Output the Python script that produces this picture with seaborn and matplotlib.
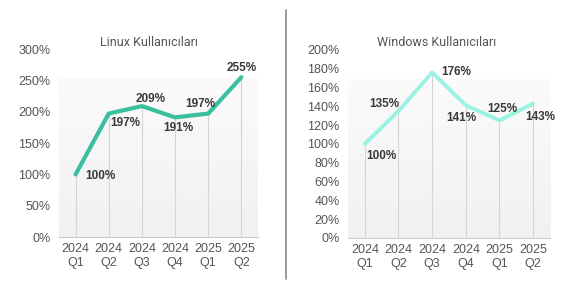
import numpy as np
import pandas as pd
import matplotlib
matplotlib.use("Agg")
import matplotlib.pyplot as plt
import seaborn as sns
from matplotlib.ticker import FuncFormatter

# Data
quarters = ["2024\nQ1", "2024\nQ2", "2024\nQ3", "2024\nQ4", "2025\nQ1", "2025\nQ2"]
linux_values = [100, 197, 209, 191, 197, 255]
windows_values = [100, 135, 176, 141, 125, 143]

sns.set_style("white")
plt.rcParams["font.family"] = ["Liberation Sans", "DejaVu Sans"]

fig = plt.figure(figsize=(5.7, 2.85), dpi=100)
ax_l = fig.add_axes([0.1035, 0.168, 0.349, 0.660])
ax_r = fig.add_axes([0.6105, 0.165, 0.3544, 0.660])

# label offsets in points (dx, dy)
linux_offsets = [(18, -1), (12, -7), (6, 5), (2, -8), (-6, 7), (0, 7)]
windows_offsets = [(12, -9), (-10, 5), (17, 0), (-3, -9), (2, 8), (5, -10)]

bg_cmap = matplotlib.colors.LinearSegmentedColormap.from_list("g", ["#f1f1f1", "#fbfbfb"])


def draw_panel(ax, values, color, ymax, ystep, offsets, lw):
    df = pd.DataFrame({"q": quarters, "v": values})
    xs = np.arange(len(quarters))
    # gradient background
    grad = np.linspace(1, 0, 256).reshape(-1, 1)
    ax.imshow(grad, extent=[0, 1, 0, 0.84], transform=ax.transAxes, cmap=bg_cmap,
              aspect="auto", zorder=0, vmin=0, vmax=1)
    ax.vlines(xs, 0, values, color="#d4d4d4", lw=0.8, zorder=1)
    sns.lineplot(data=df, x="q", y="v", color=color, lw=lw, ax=ax,
                 sort=False, zorder=3, solid_capstyle="round")
    for x, v, (dx, dy) in zip(xs, values, offsets):
        ax.annotate(f"{v}%", (x, v), xytext=(dx, dy), textcoords="offset points",
                    ha="center", va="center", fontsize=8.5, fontweight="bold",
                    color="#3a3a3a", zorder=4)
    ax.set_xlim(-0.5, 5.5)
    ax.set_ylim(0, ymax)
    ax.set_yticks(np.arange(0, ymax + 1, ystep))
    ax.yaxis.set_major_formatter(FuncFormatter(lambda v, p: f"{v:.0f}%"))
    ax.set_xlabel("")
    ax.set_ylabel("")
    for s in ["top", "right", "left"]:
        ax.spines[s].set_visible(False)
    ax.spines["bottom"].set_color("#cccccc")
    ax.spines["bottom"].set_linewidth(0.8)
    ax.tick_params(axis="both", length=0, labelsize=9, labelcolor="#555555")
    ax.tick_params(axis="y", pad=6)
    ax.tick_params(axis="x", pad=4)
    for t in ax.get_xticklabels():
        t.set_linespacing(1.25)
    ax.set_facecolor("none")


draw_panel(ax_l, linux_values, "#3cbf9f", 300, 50, linux_offsets, 3.0)
draw_panel(ax_r, windows_values, "#9af2e3", 200, 20, windows_offsets, 2.8)

fig.text(149 / 570, 1 - 42 / 285, "Linux Kullanıcıları", ha="center", va="center",
         fontsize=9, color="#555555", family=["Roboto", "DejaVu Sans"])
fig.text(437 / 570, 1 - 42 / 285, "Windows Kullanıcıları", ha="center", va="center",
         fontsize=9, color="#555555", family=["Roboto", "DejaVu Sans"])

# divider
fig.add_artist(plt.Line2D([286 / 570, 286 / 570], [1 - 10 / 285, 1 - 279 / 285],
                          color="#888888", lw=1.2))

fig.savefig("out.png", dpi=100)
